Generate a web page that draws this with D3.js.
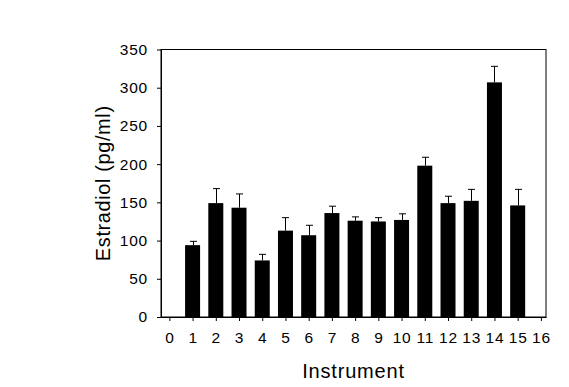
<!DOCTYPE html>
<html>
<head>
<meta charset="utf-8">
<script src="https://cdn.jsdelivr.net/npm/d3@7"></script>
<style>
  body { margin: 0; background: #fff; }
  svg { display: block; font-family: "Liberation Sans", Arial, sans-serif; }
</style>
</head>
<body>
<svg width="569" height="387"></svg>
<script>
// instrument numbers, mean estradiol and upper error (SD)
const instruments = [1, 2, 3, 4, 5, 6, 7, 8, 9, 10, 11, 12, 13, 14, 15];
const means = [94, 149, 143, 74, 113, 107, 136, 126, 125, 127, 198, 149, 152, 307, 146];
const errors = [5, 19, 18, 8, 17, 13, 9, 5, 5, 8, 11, 9, 15, 21, 21];
const xTicks = d3.range(0, 17);
const yTicks = [0, 50, 100, 150, 200, 250, 300, 350];

const svg = d3.select("svg");

// plot frame edges
const plot = { left: 161, right: 546, top: 49.5, bottom: 317 };

const x = d3.scaleLinear()
    .domain([-0.36, 16.22])
    .range([plot.left, plot.right]);

const y = d3.scaleLinear()
    .domain([0, 350])
    .range([plot.bottom, plot.top]);

const barW = 15;

// frame
svg.append("rect")
    .attr("x", plot.left).attr("y", plot.top)
    .attr("width", plot.right - plot.left).attr("height", plot.bottom - plot.top)
    .attr("fill", "none").attr("stroke", "#000").attr("stroke-width", 1);

// x axis
const xAxis = svg.append("g")
    .attr("transform", `translate(0, ${plot.bottom})`)
    .call(d3.axisBottom(x).tickValues(xTicks).tickSize(4).tickPadding(11).tickSizeOuter(0));

// y axis
const yAxis = svg.append("g")
    .attr("transform", `translate(${plot.left}, 0)`)
    .call(d3.axisLeft(y).tickValues(yTicks).tickSize(4).tickPadding(9).tickSizeOuter(0));

[xAxis, yAxis].forEach(g => {
  g.select(".domain").attr("stroke", "#000");
  g.selectAll(".tick line").attr("stroke", "#000");
  g.selectAll(".tick text")
    .attr("fill", "#000")
    .style("font-size", "15.5px")
    .style("letter-spacing", "0.8px")
    .style("font-family", "'Liberation Sans', Arial, sans-serif");
});

// error bars (upper only)
const eb = svg.append("g").attr("stroke", "#000").attr("stroke-width", 1);
instruments.forEach((d, i) => {
  const cx = Math.round(x(d)) + 0.5;
  eb.append("line")
      .attr("x1", cx).attr("x2", cx)
      .attr("y1", y(means[i])).attr("y2", y(means[i] + errors[i]));
  eb.append("line")
      .attr("x1", cx - 3.5).attr("x2", cx + 3.5)
      .attr("y1", y(means[i] + errors[i])).attr("y2", y(means[i] + errors[i]));
});

// bars
svg.append("g")
  .selectAll("rect")
  .data(instruments)
  .join("rect")
    .attr("x", d => x(d) - barW / 2)
    .attr("y", (d, i) => y(means[i]))
    .attr("width", barW)
    .attr("height", (d, i) => plot.bottom - y(means[i]))
    .attr("fill", "#000");

// axis titles
svg.append("text")
    .attr("x", (plot.left + plot.right) / 2)
    .attr("y", 377.5)
    .attr("text-anchor", "middle")
    .style("font-size", "20px")
    .style("letter-spacing", "0.8px")
    .text("Instrument");

svg.append("text")
    .attr("transform", `translate(110, ${(plot.top + plot.bottom) / 2}) rotate(-90)`)
    .attr("text-anchor", "middle")
    .style("font-size", "20px")
    .style("letter-spacing", "0.6px")
    .text("Estradiol (pg/ml)");
</script>
</body>
</html>
